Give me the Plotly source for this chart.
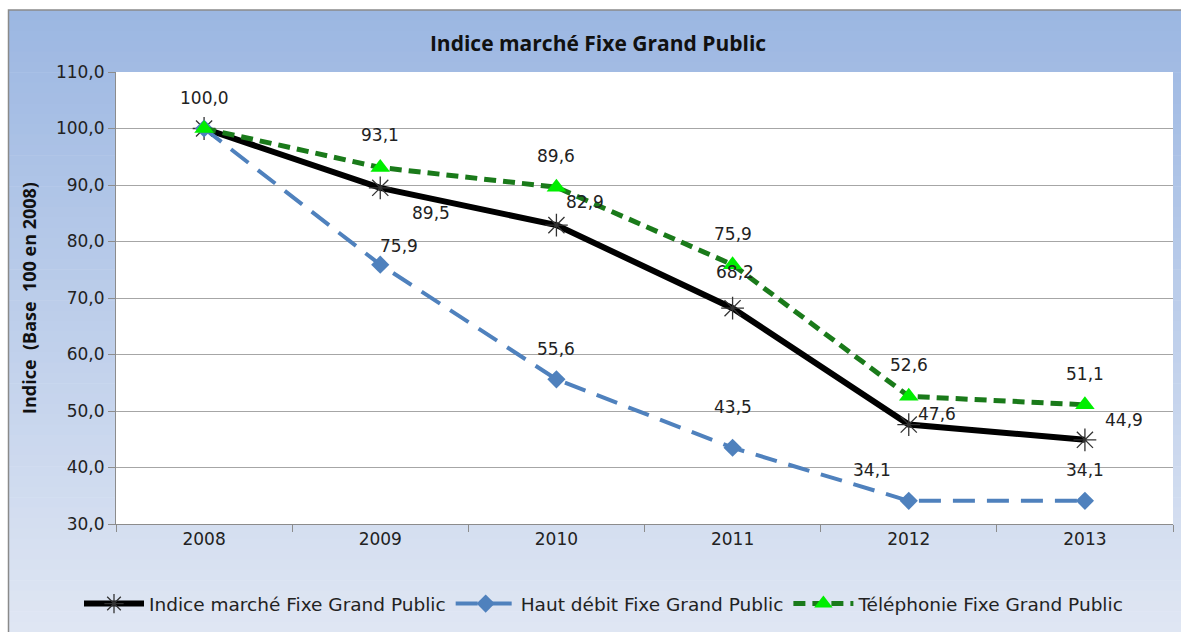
import plotly.graph_objects as go

years = ["2008", "2009", "2010", "2011", "2012", "2013"]
indice = [100.0, 89.5, 82.9, 68.2, 47.6, 44.9]
haut_debit = [100.0, 75.9, 55.6, 43.5, 34.1, 34.1]
telephonie = [100.0, 93.1, 89.6, 75.9, 52.6, 51.1]
y_ticks = [30, 40, 50, 60, 70, 80, 90, 100, 110]

names = ["Indice marché Fixe Grand Public", "Haut débit Fixe Grand Public",
         "Téléphonie Fixe Grand Public"]

# label offsets in pixels (style)
off_indice = [(0, 31), (51, -25), (29, 23), (2, 36), (28, 11), (39, 20)]
off_hd = [None, (19, 19), (0, 30), (0, 41), (-37, 31), (0, 31)]
off_tel = [None, (0, 32), (0, 31), (0, 31), (0, 31), (0, 31)]

FONT = "DejaVu Sans"
TXT = "#222222"

def fmt(v):
    return f"{v:.1f}".replace(".", ",")

fig = go.Figure()
fig.add_trace(go.Scatter(
    x=years, y=indice, name=names[0], mode="lines+markers",
    line=dict(color="black", width=6),
    marker=dict(symbol="asterisk-open", size=19, color="#333333",
                line=dict(color="#333333", width=1.3)),
))
fig.add_trace(go.Scatter(
    x=years, y=haut_debit, name=names[1], mode="lines+markers",
    line=dict(color="#4f81bd", width=4, dash="22px,12px"),
    marker=dict(symbol="diamond", size=14, color="#4f81bd"),
))
fig.add_trace(go.Scatter(
    x=years, y=telephonie, name=names[2], mode="lines+markers",
    line=dict(color="#1a7a1a", width=5, dash="12px,7px"),
    marker=dict(symbol="triangle-up", size=17, color="#00ee00"),
))

ann = []
for series, offs in ((indice, off_indice), (haut_debit, off_hd), (telephonie, off_tel)):
    for i, (v, o) in enumerate(zip(series, offs)):
        if o is None:
            continue
        ann.append(dict(x=i, y=v, xref="x", yref="y", text=fmt(v), showarrow=False,
                        xshift=o[0], yshift=o[1],
                        font=dict(family=FONT, size=17, color=TXT)))

# page body margin removed below, so figure pixels == page pixels
W, H = 1181, 632
L, T, PW, PH = 116, 72, 1057, 452

def px(x):
    return (x - L) / PW

def py(y):
    return (T + PH - y) / PH

shapes = []
n = 60
c0 = (156, 183, 226)
c1 = (223, 230, 243)
ytop, ybot = 10, H
for i in range(n):
    t = i / (n - 1)
    col = tuple(round(c0[k] + (c1[k] - c0[k]) * t) for k in range(3))
    pa = ytop + (ybot - ytop) * i / n
    pb = ytop + (ybot - ytop) * (i + 1) / n + 0.6
    shapes.append(dict(type="rect", xref="paper", yref="paper", layer="below",
                       x0=px(8), x1=px(W + 2), y0=py(pb), y1=py(pa),
                       fillcolor="rgb(%d,%d,%d)" % col, line=dict(width=0)))
shapes.append(dict(type="rect", xref="paper", yref="paper", layer="below",
                   x0=0, x1=1, y0=0, y1=1, fillcolor="white", line=dict(width=0)))
shapes.append(dict(type="rect", xref="paper", yref="paper",
                   x0=px(8.5), x1=px(W + 10), y0=py(H + 10), y1=py(ytop),
                   fillcolor="rgba(0,0,0,0)", line=dict(color="#8a8a8a", width=1.5)))

fig.update_layout(
    width=W, height=H,
    margin=dict(l=L, r=W - L - PW, t=T, b=H - T - PH),
    paper_bgcolor="white", plot_bgcolor="white",
    separators=", ",
    title=dict(text="<b>Indice marché Fixe Grand Public</b>", x=px(598), xanchor="center",
               xref="paper", y=1 - 44 / H, yanchor="middle",
               font=dict(family="Open Sans", size=21, color="#111111")),
    xaxis=dict(type="category", range=[-0.5, 5.5], showgrid=False,
               showline=True, linecolor="#8c8c8c", linewidth=1,
               ticks="outside", tickson="boundaries", ticklen=7, tickcolor="#8c8c8c",
               tickfont=dict(family=FONT, size=17, color=TXT)),
    yaxis=dict(range=[30, 110], tickvals=y_ticks, tickformat=".1f",
               showgrid=True, gridcolor="#a6a6a6", gridwidth=1,
               showline=True, linecolor="#8c8c8c", linewidth=1,
               ticks="outside", ticklen=7, tickcolor="#8c8c8c", zeroline=False,
               tickfont=dict(family=FONT, size=17, color=TXT),
               title=dict(text="<b>Indice  (Base  100 en 2008)</b>", standoff=14,
                          font=dict(family="Open Sans", size=18, color="#111111"))),
    legend=dict(orientation="h", x=px(604), xanchor="center", y=py(604),
                yanchor="middle", bgcolor="rgba(0,0,0,0)",
                font=dict(family=FONT, size=18.5, color=TXT),
                itemwidth=60, tracegroupgap=0),
    annotations=ann,
    shapes=shapes,
)

fig.write_html("out.html", config={"displayModeBar": False},
               post_script="document.body.style.margin='0';document.body.style.overflow='hidden';")
